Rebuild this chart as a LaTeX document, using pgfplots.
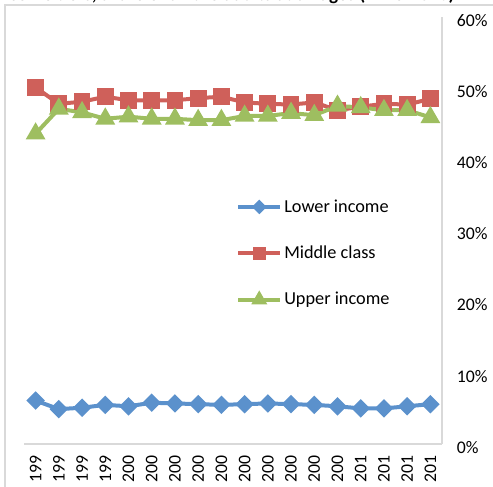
\documentclass[border=0pt]{standalone}
\usepackage{pgfplots}
\pgfplotsset{compat=1.18}
\usepackage{fontspec}
\setmainfont{Carlito}
\definecolor{cblue}{RGB}{91,145,204}
\definecolor{cred}{RGB}{207,96,90}
\definecolor{cgreen}{RGB}{158,190,96}
\definecolor{cborder}{RGB}{217,217,217}
\begin{document}
\begin{tikzpicture}
\useasboundingbox (0,0) rectangle (369.75pt,-364.5pt);
\draw[cborder, line width=0.9pt] (3.75pt,-380pt) -- (3.75pt,-3.75pt) -- (380pt,-3.75pt);
\node[anchor=base east, font=\bfseries\fontsize{14.3}{17}\selectfont, inner sep=0pt] at (341pt,0pt) {Income tiers, share of all the adults at all ages (1996-2013)};
\begin{axis}[
  at={(18pt,-333pt)}, anchor=south west,
  width=313.5pt, height=320.25pt, scale only axis,
  xmin=-0.5, xmax=17.5, ymin=0, ymax=60,
  axis x line*=bottom, axis y line*=right,
  axis line style={cborder, line width=1pt, -},
  x axis line style={-}, y axis line style={-},
  major tick length=0pt,
  xtick={0,...,17},
  xticklabels={199,199,199,199,200,200,200,200,200,200,200,200,200,200,201,201,201,201},
  xticklabel style={rotate=90, anchor=east, inner xsep=8.25pt, inner ysep=0pt},
  ytick={0,10,...,60},
  yticklabel={\pgfmathprintnumber{\tick}\%},
  yticklabel style={anchor=west, inner sep=0pt, xshift=11pt, yshift=-2.5pt},
  /pgf/number format/assume math mode=true,
  tick label style={font=\fontsize{13.3}{16}\selectfont, black},
  legend style={draw=none, fill=none, at={(axis description cs:0.4976,0.5854)}, anchor=north west,
    font=\fontsize{13.7}{16}\selectfont, row sep=19.8pt, nodes={inner xsep=1.5pt}},
  legend cell align=left,
  legend image code/.code={\draw[mark repeat=2,mark phase=2,#1, every mark/.append style={scale=0.7}] plot coordinates {(0pt,0pt) (15.75pt,0pt) (31.5pt,0pt)};},
  clip=false,
]
\addplot[cblue, line width=3pt, mark=square*, mark size=3.4pt, mark options={rotate=45, solid}] coordinates {
(0,6.1) (1,4.9) (2,5.1) (3,5.5) (4,5.3) (5,5.8) (6,5.7) (7,5.6) (8,5.5) (9,5.6) (10,5.7) (11,5.6) (12,5.5) (13,5.3) (14,5.0) (15,5.0) (16,5.3) (17,5.6)};
\addlegendentry{Lower income}
\addplot[cred, line width=3pt, mark=square*, mark size=4.8pt, mark options={solid}] coordinates {
(0,50.1) (1,47.8) (2,48.1) (3,48.8) (4,48.3) (5,48.3) (6,48.3) (7,48.6) (8,48.8) (9,48.0) (10,47.8) (11,47.7) (12,48.0) (13,46.9) (14,47.4) (15,47.8) (16,47.7) (17,48.5)};
\addlegendentry{Middle class}
\addplot[cgreen, line width=3pt, mark=triangle*, mark size=5.6pt, mark options={solid}] coordinates {
(0,43.6) (1,47.1) (2,46.6) (3,45.7) (4,46.0) (5,45.7) (6,45.7) (7,45.5) (8,45.5) (9,46.1) (10,46.1) (11,46.5) (12,46.2) (13,47.5) (14,47.3) (15,46.9) (16,46.9) (17,45.9)};
\addlegendentry{Upper income}
\end{axis}
\end{tikzpicture}
\end{document}
